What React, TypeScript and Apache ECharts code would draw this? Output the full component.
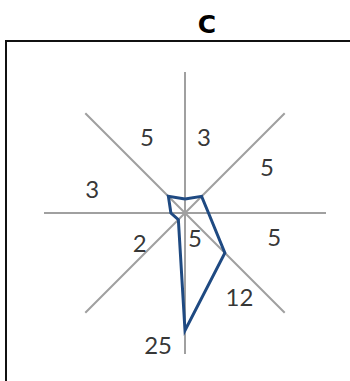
import React, { useEffect, useRef } from "react";
import * as echarts from "echarts";

// Values on the 8 axes, clockwise from the top
const axisAngles = [0, 45, 90, 135, 180, 225, 270, 315];
const values = [3, 5, 5, 12, 25, 2, 3, 5];
const radiusMax = 30;

// Value labels (text) and where they sit, in data units [radius, angle]
const labelTexts = ["3", "5", "5", "12", "25", "2", "3", "5", "5"];
const labelRadii = [16.7, 20.1, 19.6, 21.3, 28.5, 11.5, 20.4, 18.1, 5.7];
const labelAngles = [14, 60.2, 104.5, 147, 191.6, 237, 284.5, 333.4, 158.2];

const titleText = "C";

export default function App() {
  const ref = useRef<HTMLDivElement>(null);
  useEffect(() => {
    if (!ref.current) return;
    const chart = echarts.init(ref.current, undefined, { renderer: "svg" });
    const lineData = values.map((v, i) => [v, axisAngles[i]]);
    lineData.push([values[0], 360]);
    const labelData = labelTexts.map((t, i) => ({
      value: [labelRadii[i], labelAngles[i]],
      name: t,
    }));
    chart.setOption({
      animation: false,
      backgroundColor: "#ffffff",
      polar: { center: [185, 213], radius: 141 },
      angleAxis: {
        type: "value",
        min: 0,
        max: 360,
        interval: 45,
        startAngle: 90,
        clockwise: true,
        axisLine: { show: false },
        axisTick: { show: false },
        axisLabel: { show: false },
        splitLine: { show: true, lineStyle: { color: "#a0a0a0", width: 2 } },
      },
      radiusAxis: {
        type: "value",
        min: 0,
        max: radiusMax,
        axisLine: { show: false },
        axisTick: { show: false },
        axisLabel: { show: false },
        splitLine: { show: false },
      },
      graphic: [
        {
          type: "rect",
          shape: { x: 6, y: 41, width: 420, height: 420 },
          style: { fill: "none", stroke: "#111111", lineWidth: 2 },
          silent: true,
        },
        {
          type: "text",
          x: 207,
          y: 24,
          style: {
            text: titleText,
            fill: "#000000",
            font: "bold 25px 'DejaVu Sans', sans-serif",
            textAlign: "center",
            textVerticalAlign: "middle",
          },
        },
      ],
      series: [
        {
          type: "line",
          coordinateSystem: "polar",
          data: lineData,
          symbol: "none",
          smooth: false,
          lineStyle: { color: "#1f4a82", width: 3, join: "miter" },
          z: 3,
        },
        {
          type: "scatter",
          coordinateSystem: "polar",
          data: labelData,
          symbolSize: 0,
          label: {
            show: true,
            position: "inside",
            formatter: (p: any) => p.name,
            color: "#000000",
            fontSize: 24,
            fontFamily: "Lato, 'Open Sans', sans-serif",
          },
          z: 4,
        },
      ],
    });
    return () => chart.dispose();
  }, []);
  return (
    <div
      ref={ref}
      style={{ position: "fixed", left: 0, top: 0, width: 350, height: 381 }}
    />
  );
}
